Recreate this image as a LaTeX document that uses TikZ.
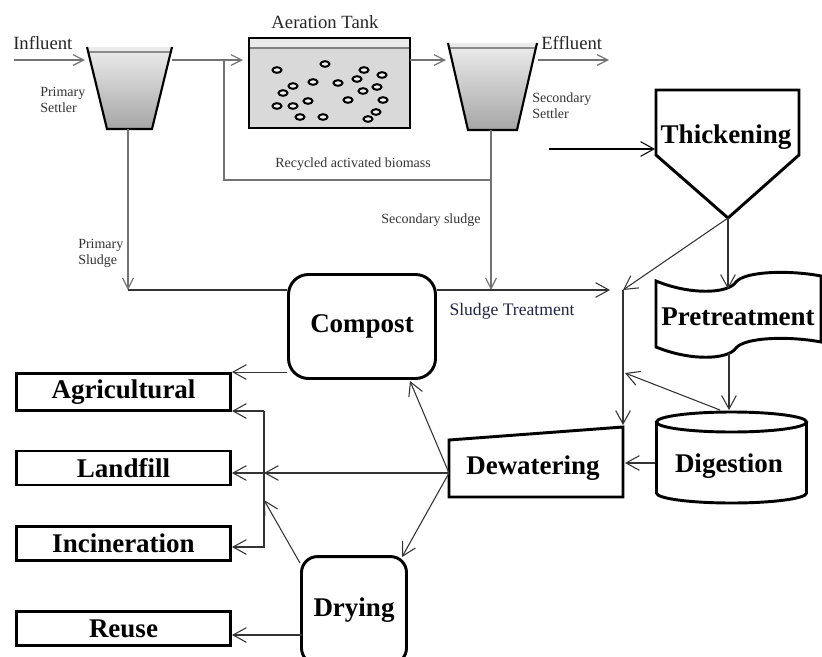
\documentclass[tikz,border=0pt]{standalone}
\usepackage{fontspec}
\setmainfont{Liberation Serif}
\usepackage{xcolor}
\usetikzlibrary{arrows.meta,calc,positioning}
\definecolor{ink}{RGB}{35,35,70}
\tikzset{%
	pipe/.style    = {draw=black!55, line width=0.9pt, -{Straight Barb[length=8pt,width=8pt]}},
	arrow/.style   = {draw=black!80, line width=0.8pt, -{Straight Barb[length=10pt,width=11pt]}},
	outlet/.style  = {draw, rectangle, line width=2.2pt, minimum width=160.5pt, minimum height=25.5pt, inner sep=0pt, font=\bfseries\fontsize{20.25}{24}\selectfont},
	process/.style = {draw, rectangle, line width=2.2pt, inner sep=0pt, font=\bfseries\fontsize{20.25}{24}\selectfont},
	bold/.style    = {inner sep=0pt, font=\bfseries\fontsize{20.25}{24}\selectfont},
	caption/.style = {inner sep=0pt, text=black!85, font=\fontsize{14}{16}\selectfont},
	tag/.style     = {inner sep=0pt, text=black!80, align=left, font=\fontsize{10.5}{12}\selectfont},
	bubble/.style  = {draw, line width=1.5pt, fill=black!5},
}

\begin{document}
\begin{tikzpicture}[x=0.75pt,y=-0.75pt]
	\clip (0,0) rectangle (822,657);
	\fill[white] (0,0) rectangle (822,657);

	\shade[top color=black!7, bottom color=black!35] (87,47) -- (172,47) -- (152,129) -- (107,129) -- cycle;
	\fill[black!8] (87,47) -- (172,47) -- (170.8,52) -- (88.2,52) -- cycle;
	\draw[black!45, line width=0.8pt] (88.2,52) -- (170.8,52);
	\draw[line width=1.6pt] (87,47) -- (107,129) -- (152,129) -- (172,47);
	\coordinate (ps-in) at (85,60);
	\coordinate (ps-out) at (172,60);
	\coordinate (ps-low) at (128,129);
	\node[caption, anchor=west] (influent) at (13,43) {Influent};
	\node[tag, anchor=west] (primsettler) at (40,100) {Primary\\Settler};
	\coordinate (in-start) at (14,60);

	\filldraw[fill=black!15, line width=1.6pt] (249,38) rectangle (410,128);
	\fill[black!8] (249.8,38.8) rectangle (409.2,48);
	\draw[black!50, line width=0.8pt] (249,48) -- (410,48);
	\draw[line width=1.6pt] (249,38) rectangle (410,128);
	\foreach \x/\y in {277/70,325/64,364/70,382/75,313/82,293/86,338/83,357/79,377/87,363/91,283/93,308/101,277/106,293/106,348/100,383/100,300/117,323/117,376/112,368/119}
		\draw[bubble] (\x,\y) ellipse [x radius=4.5, y radius=2.8];
	\node[caption] (tanktitle) at (325,22) {Aeration Tank};
	\coordinate (tank-in) at (243,60);
	\coordinate (tank-out) at (410,60);

	\shade[top color=black!7, bottom color=black!35] (448,43) -- (537,43) -- (517,130) -- (468,130) -- cycle;
	\fill[black!8] (448,43) -- (537,43) -- (535.9,48) -- (449.1,48) -- cycle;
	\draw[black!45, line width=0.8pt] (449.1,48) -- (535.9,48);
	\draw[line width=1.6pt] (448,43) -- (468,130) -- (517,130) -- (537,43);
	\coordinate (ss-in) at (446,60);
	\coordinate (ss-out) at (538,60);
	\coordinate (ss-low) at (491,130);
	\coordinate (eff-end) at (609,60);
	\node[caption, anchor=west] (effluent) at (541,43) {Effluent};
	\node[tag, anchor=west] (secsettler) at (532,106) {Secondary\\Settler};

	\draw[pipe] (in-start) -- (ps-in);
	\draw[pipe] (ps-out) -- (tank-in);
	\draw[pipe] (tank-out) -- (ss-in);
	\draw[pipe] (ss-out) -- (eff-end);
	\coordinate (split) at (224,60);
	\coordinate (feed) at (128,290);
	\draw[pipe, -] (split) |- (ss-low |- 0,180);
	\node[tag] (recycled) at (353,164) {Recycled activated biomass};
	\draw[pipe] (ps-low) -- (feed);
	\draw[pipe] (ss-low) -- (ss-low |- feed);
	\node[tag, anchor=west] (primsludge) at (78,253) {Primary\\Sludge};
	\node[tag] (secsludge) at (431,220) {Secondary sludge};

	\node[process, rounded corners=15pt, minimum width=110.25pt, minimum height=78pt] (compost) at (362,326.5) {Compost};
	\node[process, rounded corners=12pt, minimum width=78.75pt, minimum height=80.6pt] (drying) at (354,610.3) {Drying};
	\draw[arrow, -] (feed) -- (feed -| compost.west);
	\coordinate (treat) at (610,290);
	\draw[arrow] (compost.east |- feed) -- (treat);
	\node[inner sep=0pt, text=ink, font=\fontsize{13.2}{15}\selectfont] (sludgetreat) at (512,311) {Sludge Treatment};

	\draw[line width=2.2pt] (656,90) -- (799,90) -- (799,155) -- (728,218) -- (656,155) -- cycle;
	\node[bold] (thickening) at (726,137) {Thickening};
	\coordinate (th-tip) at (728,218);
	\coordinate (th-in) at (655,149);
	\draw[arrow, draw=black] (549,149) -- (th-in);

	\draw[line width=2.2pt] (656,281) .. controls (690,295) and (728,294) .. (736,282) .. controls (745,271) and (790,270) .. (821,276) -- (821,342) .. controls (790,336) and (745,337) .. (736,348) .. controls (728,360) and (690,361) .. (656,347) -- cycle;
	\node[bold] (pretreat) at (738,317) {Pretreatment};
	\coordinate (pre-top) at (728,289);
	\coordinate (pre-low) at (729,353);

	\filldraw[fill=white, line width=2.2pt] (656.5,422) -- (656.5,493) arc[start angle=180, end angle=0, x radius=75, y radius=10] -- (806.5,422);
	\draw[line width=2.2pt] (731.5,422) ellipse [x radius=75, y radius=10];
	\node[bold] (digestion) at (729,466) {Digestion};
	\coordinate (dg-top) at (729,410);
	\coordinate (dg-nw) at (720,410);
	\coordinate (dg-w) at (655,463);

	\draw[line width=2.2pt] (449,440) -- (623,427) -- (623,497) -- (449,497) -- cycle;
	\node[bold] (dewatering) at (533,468) {Dewatering};
	\coordinate (dw-w) at (449,473);
	\coordinate (dw-e) at (625,463);
	\coordinate (dw-ne) at (623,425);

	\coordinate (bus-top) at (623,290);
	\coordinate (bus-mid) at (625,373);
	\draw[arrow] (th-tip) -- (pre-top);
	\draw[arrow] (th-tip) -- (bus-top);
	\draw[arrow] (bus-top) -- (dw-ne);
	\draw[arrow] (pre-low) -- (dg-top);
	\draw[arrow] (dg-nw) -- (bus-mid);
	\draw[arrow] (dg-w) -- (dw-e);

	\node[outlet, minimum height=27.75pt] (agri) at (123.5,392) {Agricultural};
	\node[outlet] (landfill) at (123.5,468) {Landfill};
	\node[outlet] (incin) at (123.5,543.5) {Incineration};
	\node[outlet] (reuse) at (123.5,628.5) {Reuse};

	\coordinate (hub-a) at (264,411);
	\coordinate (hub-b) at (264,547);
	\coordinate (hub-c) at (264,500);
	\coordinate (cp-se) at (410,381);
	\coordinate (dr-ne) at (402,557);
	\coordinate (dr-out) at (302,635);
	\draw[arrow] (compost.west |- agri.north) -- (agri.north east);
	\draw[arrow] (hub-a) -- (hub-a -| agri.east);
	\draw[arrow] (hub-a) -- (hub-b) -- (hub-b -| incin.east);
	\draw[arrow] (dw-w) -- (dw-w -| landfill.east);
	\draw[arrow] (dw-w) -- (dw-w -| hub-a);
	\draw[arrow] (dw-w) -- (cp-se);
	\draw[arrow] (dw-w) -- (dr-ne);
	\draw[arrow] ($(drying.north west)+(0,8)$) -- (hub-c);
	\draw[arrow] (dr-out) -- (dr-out -| reuse.east);
\end{tikzpicture}
\end{document}
